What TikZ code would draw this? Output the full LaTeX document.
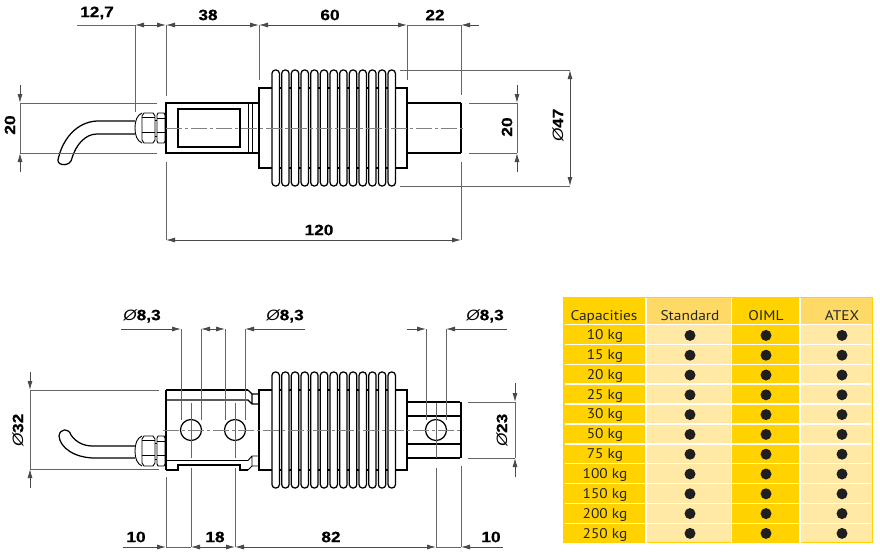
\documentclass[tikz,border=0pt]{standalone}
\usepackage{fontspec}
\usetikzlibrary{arrows.meta}
\newfontfamily\dimfont[FakeStretch=1.15,BoldFeatures={FakeBold=0.4}]{Liberation Sans}
\newfontfamily\tabfont[FakeStretch=1.1]{PT Sans}
\newcommand{\diam}{{\mdseries\itshape Ø}}
\definecolor{capyellow}{HTML}{FFD200}
\definecolor{caplight}{HTML}{FFE9A4}
\definecolor{caphead}{HTML}{FFD966}
\definecolor{dimgrey}{HTML}{4A4A4A}
\tikzset{
	outline/.style={black,line width=1.25pt},
	fineline/.style={black,line width=0.9pt},
	heavy/.style={black,line width=1.8pt},
	dimline/.style={dimgrey,line width=0.8pt,{Latex[length=9pt,width=5pt]}-{Latex[length=9pt,width=5pt]}},
	tipend/.style={dimgrey,line width=0.8pt,-{Latex[length=9pt,width=5pt]}},
	extline/.style={dimgrey!85,line width=0.8pt},
	axisline/.style={dimgrey!70,line width=0.8pt,dash pattern=on 16pt off 3pt on 3pt off 3pt},
	dimlabel/.style={font=\dimfont\bfseries\fontsize{15}{15}\selectfont,inner sep=0pt},
	tablabel/.style={font=\tabfont\fontsize{14}{15}\selectfont,text=black!85,inner sep=0pt,anchor=base},
	dotmark/.style={circle,fill=black!88,inner sep=0pt,minimum size=11pt}
}
% body flange and fins, drawn round y=0
\newcommand{\bellows}{
	\draw[outline] (259,-40) rectangle (407,40);
	\foreach \n in {0,...,12}
		\draw[outline,fill=white,rounded corners=3.4pt] ({272+9.67*\n},-58) rectangle ({279.4+9.67*\n},58);
	\foreach \n in {0,...,11}{
		\draw[outline] ({279.4+9.67*\n},-40) -- ({281.7+9.67*\n},-40);
		\draw[outline] ({279.4+9.67*\n},40) -- ({281.7+9.67*\n},40);
	}
}
% cable gland, drawn round y=0
\newcommand{\gland}{
	\draw[fineline] (142,-15) .. controls (137,-13) and (135,-7) .. (135,0) .. controls (135,7) and (137,13) .. (142,15);
	\draw[fineline] (142,-12) -- (144,-15) -- (153,-15) -- (155,-12) -- (155,12) -- (153,15) -- (144,15) -- (142,12) -- cycle;
	\draw[fineline] (157,-13) -- (158,-15) -- (164,-15) -- (165,-13) -- (165,13) -- (164,15) -- (158,15) -- (157,13) -- cycle;
	\draw[fineline] (155,-8) -- (157,-8) (155,8) -- (157,8);
	\draw[fineline] (142,-11) -- (155,-11) (142,4) -- (155,4) (157,-10) -- (165,-10) (157,4) -- (165,4);
}
\begin{document}
\begin{tikzpicture}[x=1pt,y=-1pt]
	\useasboundingbox (0,0) rectangle (880,554);

	% side view
	\begin{scope}[shift={(0,128)}]
		\bellows
		\gland
	\end{scope}
	\draw[outline] (166,103) rectangle (259,153);
	\draw[heavy] (166,102) -- (166,154);
	\draw[outline] (178,109) rectangle (240,147);
	\draw[fineline] (248,103) -- (248,153) (252,103) -- (252,153);
	\draw[outline] (407,103) -- (461,103) (407,153) -- (461,153);
	\draw[heavy] (461,103) -- (461,153);
	\draw[outline] (135,121) -- (97,121) .. controls (76,122) and (62,140) .. (58,160) .. controls (57,166) and (71,167) .. (72,158) .. controls (76,145) and (85,134) .. (97,134) -- (135,134);
	\draw[axisline] (166,128) -- (463,128);

	\draw[extline] (135,25) -- (135,112);
	\draw[extline] (166,25) -- (166,96) (166,162) -- (166,240);
	\draw[extline] (259,25) -- (259,80);
	\draw[extline] (407,25) -- (407,80);
	\draw[extline] (461,25) -- (461,95) (461,162) -- (461,240);
	\draw[extline] (20,103) -- (157,103) (20,153) -- (157,153);
	\draw[extline] (469,103) -- (517,103) (469,153) -- (517,153);
	\draw[extline] (400,70) -- (570,70) (400,186) -- (570,186);

	\draw[extline] (77,25) -- (135,25) (407,25) -- (461,25);
	\draw[dimline] (135,25) -- (166,25);
	\draw[dimline] (166,25) -- (259,25);
	\draw[dimline] (259,25) -- (407,25);
	\draw[tipend] (479,25) -- (461,25);
	\draw[dimline] (166,240) -- (461,240);
	\draw[dimline] (570,70) -- (570,186);
	\draw[tipend] (20,85) -- (20,103);
	\draw[tipend] (20,172) -- (20,153);
	\draw[extline] (20,103) -- (20,153);
	\draw[tipend] (517,85) -- (517,103);
	\draw[tipend] (517,172) -- (517,153);
	\draw[extline] (517,103) -- (517,153);

	\node[dimlabel] (sideA) at (97,13) {12,7};
	\node[dimlabel] (sideB) at (208,15) {38};
	\node[dimlabel] (sideC) at (330,15) {60};
	\node[dimlabel] (sideD) at (435,15) {22};
	\node[dimlabel] (sideE) at (319,230) {120};
	\node[dimlabel,rotate=90] (sideF) at (10,125) {20};
	\node[dimlabel,rotate=90] (sideG) at (507,127) {20};
	\node[dimlabel,rotate=90] (sideH) at (558,125) {\diam47};

	% top view
	\begin{scope}[shift={(0,430)}]
		\bellows
	\end{scope}
	\begin{scope}[shift={(0,451)}]
		\gland
	\end{scope}
	\draw[outline] (135,446) -- (93,446) .. controls (83,446) and (76,442) .. (71,435) .. controls (69,428) and (60,428) .. (59,436) .. controls (60,448) and (75,458) .. (95,458) -- (135,458);
	\draw[heavy] (166,390) -- (166,470);
	\draw[outline] (166,390) -- (248,390);
	\draw[outline] (166,400) -- (248,400) -- (252,404) -- (259,404) (248,390) -- (252,394) -- (259,394) (252,394) -- (252,404);
	\draw[fineline] (166,460.5) -- (248,460.5) -- (252,456) -- (259,456) (252,456) -- (252,466) -- (259,466) (252,466) -- (248,470);
	\draw[outline] (166,470) -- (178,470) -- (178,465) -- (240,465) -- (240,470) -- (248,470);
	\draw[outline] (407,402) -- (460,402) (407,458) -- (460,458) (407,416) -- (460,416) (407,444) -- (460,444);
	\draw[heavy] (461,402) -- (461,458);
	\node[draw,outline,circle,inner sep=0pt,minimum size=21pt] (holeA) at (191,430) {};
	\node[draw,outline,circle,inner sep=0pt,minimum size=21pt] (holeB) at (235,430) {};
	\node[draw,outline,circle,inner sep=0pt,minimum size=21pt] (holeC) at (436,430) {};
	\draw[axisline] (163,430) -- (463,430);

	\foreach \x in {181,201,225,245,426,446}
		\draw[extline] (\x,329) -- (\x,420);
	\foreach \x in {191,235,436}{
		\draw[extline] (\x,403) -- (\x,458);
		\draw[extline] (\x,468) -- (\x,547);
	}
	\draw[extline] (166,477) -- (166,547);
	\draw[extline] (461,466) -- (461,547);
	\draw[extline] (30,390) -- (159,390) (30,469) -- (159,469);
	\draw[extline] (468,402) -- (515,402) (468,458) -- (515,458);

	\draw[tipend] (121,329) -- (181,329);
	\draw[tipend] (215,329) -- (201,329);
	\draw[tipend] (215,329) -- (225,329);
	\draw[tipend] (305,329) -- (245,329);
	\draw[tipend] (407,329) -- (426,329);
	\draw[tipend] (507,329) -- (446,329);
	\draw[tipend] (30,372) -- (30,390);
	\draw[tipend] (30,488) -- (30,469);
	\draw[extline] (30,390) -- (30,469);
	\draw[tipend] (515,383) -- (515,402);
	\draw[tipend] (515,477) -- (515,458);
	\draw[extline] (515,402) -- (515,458);
	\draw[tipend] (123,547) -- (166,547);
	\draw[extline] (166,547) -- (191,547);
	\draw[dimline] (191,547) -- (235,547);
	\draw[dimline] (235,547) -- (436,547);
	\draw[tipend] (503,547) -- (461,547);
	\draw[extline] (436,547) -- (461,547);

	\node[dimlabel] (topA) at (142,316) {\diam8,3};
	\node[dimlabel] (topB) at (285,316) {\diam8,3};
	\node[dimlabel] (topC) at (485,316) {\diam8,3};
	\node[dimlabel] (topD) at (136,537) {10};
	\node[dimlabel] (topE) at (215,537) {18};
	\node[dimlabel] (topF) at (331,537) {82};
	\node[dimlabel] (topG) at (491,537) {10};
	\node[dimlabel,rotate=90] (topH) at (18,430) {\diam32};
	\node[dimlabel,rotate=90] (topI) at (502,430) {\diam23};

	% table of capacities
	\fill[capyellow] (563,297) rectangle (873,543);
	\fill[caphead] (647,298) rectangle (731,324);
	\fill[caphead] (801,298) rectangle (872,324);
	\fill[caplight] (647,324) rectangle (731,542);
	\fill[caplight] (801,324) rectangle (872,542);
	\foreach \x in {646,731.5,800}
		\draw[white,line width=1.3pt] (\x,298) -- (\x,543);
	\foreach \i in {0,...,10}
		\draw[white,line width=1.3pt] (565,{324.3+19.93*\i}) -- (871,{324.3+19.93*\i});
	\node[tablabel] (headA) at (604,320) {Capacities};
	\node[tablabel] (headB) at (690,320) {Standard};
	\node[tablabel] (headC) at (766,320) {OIML};
	\node[tablabel] (headD) at (842,320) {ATEX};
	\foreach \cap [count=\i from 0] in {10,15,20,25,30,50,75,100,150,200,250}{
		\node[tablabel] (cap\i) at (605,{339.5+19.85*\i}) {\cap{} kg};
		\node[dotmark] (dotA\i) at (690,{335.4+19.8*\i}) {};
		\node[dotmark] (dotB\i) at (766,{335.4+19.8*\i}) {};
		\node[dotmark] (dotC\i) at (842,{335.4+19.8*\i}) {};
	}
\end{tikzpicture}
\end{document}
